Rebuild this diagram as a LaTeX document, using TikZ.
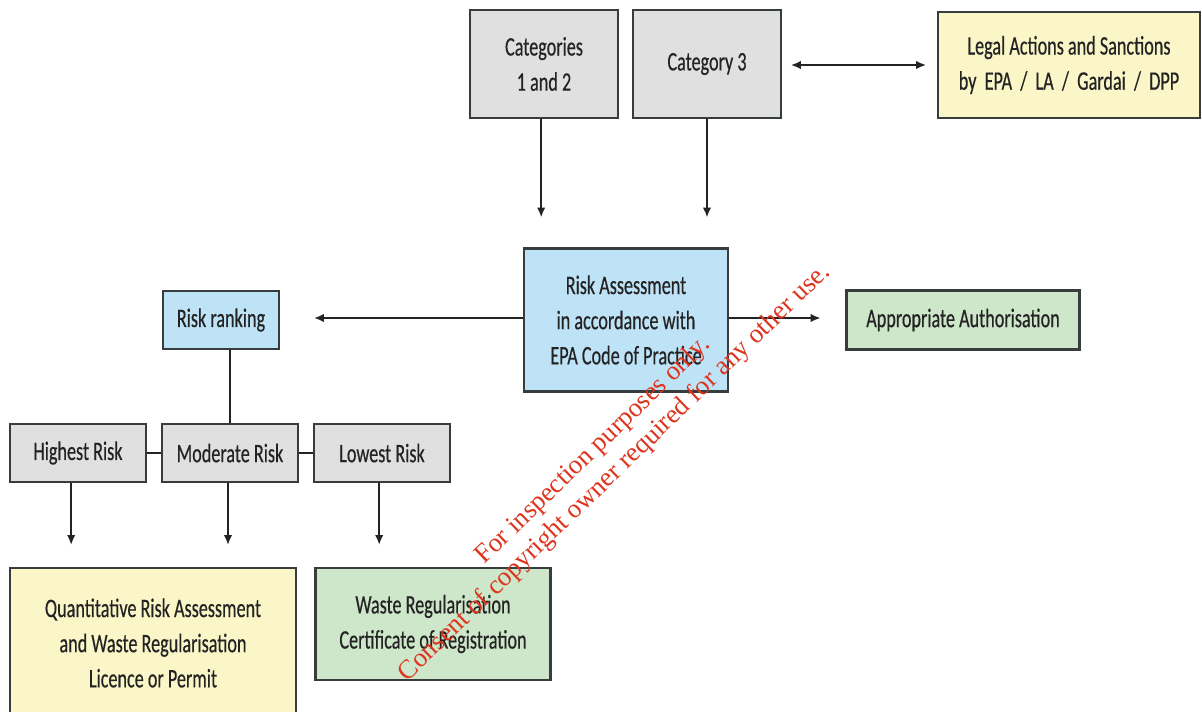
\documentclass[tikz,border=0pt]{standalone}
\usepackage{fontspec}
\usepackage{tikz}
\usetikzlibrary{arrows.meta}
\newfontfamily\boxfont[FakeStretch=0.68, FakeBold=0.4]{Carlito}
\newfontfamily\markfont{Liberation Serif}
\definecolor{boxgrey}{RGB}{224, 224, 224}
\definecolor{boxblue}{RGB}{190, 226, 246}
\definecolor{boxyellow}{RGB}{251, 246, 200}
\definecolor{boxgreen}{RGB}{206, 230, 202}
\definecolor{edgegrey}{RGB}{55, 60, 60}
\definecolor{darktext}{RGB}{35, 35, 35}
\definecolor{markred}{RGB}{222, 52, 30}

\begin{document}
\begin{tikzpicture}[x=0.025cm, y=-0.025cm,
  box/.style={draw=edgegrey, line width=1.6pt, align=center, inner sep=0pt,
    text=darktext, font=\boxfont\fontsize{19}{25}\selectfont},
  greybox/.style={box, fill=boxgrey},
  bluebox/.style={box, fill=boxblue},
  yellowbox/.style={box, fill=boxyellow},
  greenbox/.style={box, fill=boxgreen},
  arr/.style={-{Latex[length=7pt, width=6pt]}, line width=1.2pt, draw=darktext},
  link/.style={line width=1.2pt, draw=darktext}]
  \useasboundingbox (0,0) rectangle (1202,711);
  \fill[white] (0,0) rectangle (1202,711);

  % top row
  \node[greybox, minimum width=3.7cm, minimum height=2.7cm] (cat12) at (544,64) {Categories\\1 and 2};
  \node[greybox, minimum width=3.7cm, minimum height=2.7cm] (cat3) at (707,64) {Category 3};
  \node[yellowbox, minimum width=6.55cm, minimum height=2.65cm] (legal) at (1069,65) {Legal Actions and Sanctions\\by~ EPA~ /~ LA~ /~ Gardai~ /~ DPP};

  % middle row
  \node[bluebox, minimum width=5.1cm, minimum height=3.575cm] (assess) at (626,320) {Risk Assessment\\in accordance with\\EPA Code of Practice};
  \node[bluebox, minimum width=2.9cm, minimum height=1.45cm] (ranking) at (221,320) {Risk ranking};
  \node[greenbox, minimum width=5.825cm, minimum height=1.475cm] (auth) at (963,320) {Appropriate Authorisation};

  % risk levels
  \node[greybox, minimum width=3.4cm, minimum height=1.45cm] (highest) at (78,453) {Highest Risk};
  \node[greybox, minimum width=3.4cm, minimum height=1.45cm] (moderate) at (230,453) {Moderate Risk};
  \node[greybox, minimum width=3.4cm, minimum height=1.45cm] (lowest) at (382,453) {Lowest Risk};

  % outcomes
  \node[yellowbox, minimum width=7.15cm, minimum height=3.75cm] (quant) at (153,643) {Quantitative Risk Assessment\\and Waste Regularisation\\Licence or Permit};
  \node[greenbox, minimum width=5.875cm, minimum height=2.8cm] (waste) at (433,624) {Waste Regularisation\\Certificate of Registration};

  % connectors
  \draw[arr, {Latex[length=7pt, width=6pt]}-{Latex[length=7pt, width=6pt]}, shorten <=0.22cm, shorten >=0.27cm] (cat3.east |- legal) -- (legal.west);
  \draw[arr, shorten >=0.75cm] ([xshift=-0.07cm]cat12.south) -- ([xshift=-0.07cm]cat12.south |- assess.north);
  \draw[arr, shorten >=0.75cm] (cat3.south) -- (cat3.south |- assess.north);
  \draw[arr, shorten >=0.85cm] ([yshift=0.05cm]assess.west) -- ([yshift=0.05cm]assess.west -| ranking.east);
  \draw[arr, shorten >=0.62cm] ([yshift=0.05cm]assess.east) -- ([yshift=0.05cm]assess.east -| auth.west);
  \draw[link] (moderate.north) -- (moderate.north |- ranking.south);
  \draw[link] (highest) -- (moderate);
  \draw[link] (moderate) -- (lowest);
  \draw[arr, shorten >=0.55cm] ([xshift=-0.17cm]highest.south) -- ([xshift=-0.17cm]highest.south |- quant.north);
  \draw[arr, shorten >=0.55cm] ([xshift=-0.05cm]moderate.south) -- ([xshift=-0.05cm]moderate.south |- quant.north);
  \draw[arr, shorten >=0.55cm] ([xshift=-0.07cm]lowest.south) -- ([xshift=-0.07cm]lowest.south |- waste.north);

  % watermark
  \node[text=markred, font=\markfont\fontsize{19}{22}\selectfont, rotate=44, align=center] (mark) at (604,462)
    {For inspection purposes only.\\Consent of copyright owner required for any other use.};
\end{tikzpicture}
\end{document}
